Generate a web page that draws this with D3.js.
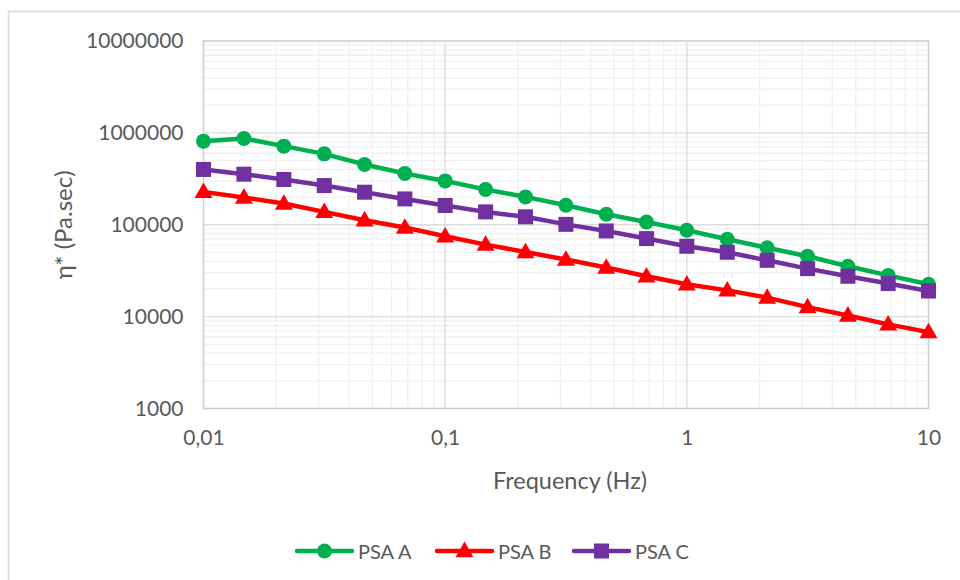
<!DOCTYPE html>
<html>
<head>
<meta charset="utf-8">
<script src="https://cdn.jsdelivr.net/npm/d3@7"></script>
<style>
  html, body { margin: 0; padding: 0; background: #fff; }
  svg { display: block; font-family: Lato, "Open Sans", sans-serif; }
</style>
</head>
<body>
<svg id="chart" width="960" height="580"></svg>
<script>
// ---- data ----
const frequencies = [0.01, 0.0147, 0.0215, 0.0316, 0.0464, 0.0681, 0.1, 0.147, 0.215, 0.316, 0.464, 0.681, 1, 1.47, 2.15, 3.16, 4.64, 6.81, 10];
const psaA = [813000, 870000, 717000, 591000, 453000, 361000, 300000, 242000, 201000, 163000, 130000, 107000, 87100, 69500, 56100, 45400, 35300, 28100, 22500];
const psaB = [228000, 198000, 170000, 138000, 112000, 93200, 74900, 60800, 50500, 41800, 34200, 27500, 22500, 19300, 16100, 12700, 10300, 8230, 6780];
const psaC = [400000, 355000, 311000, 267000, 226000, 191000, 162000, 138000, 122000, 101000, 85600, 70700, 58300, 50200, 41000, 33300, 27500, 22900, 19000];
const seriesNames = ["PSA A", "PSA B", "PSA C"];
const seriesColors = ["#00B050", "#FF0000", "#7030A0"];
const seriesMarkers = ["circle", "triangle", "square"];
const xTicks = [0.01, 0.1, 1, 10];
const xTickLabels = ["0,01", "0,1", "1", "10"];
const yTicks = [1000, 10000, 100000, 1000000, 10000000];
const yTickLabels = ["1000", "10000", "100000", "1000000", "10000000"];
const xTitle = "Frequency (Hz)";
const yTitle = "η* (Pa.sec)";

// ---- layout ----
const svg = d3.select("#chart");
const plot = { left: 203.5, right: 928.5, top: 41, bottom: 408.5 };

const x = d3.scaleLog().domain([0.01, 10]).range([plot.left, plot.right]);
const y = d3.scaleLog().domain([1000, 10000000]).range([plot.bottom, plot.top]);

// outer chart border
svg.append("rect")
  .attr("x", 8.5).attr("y", 11.5)
  .attr("width", 1000).attr("height", 1000)
  .attr("fill", "none").attr("stroke", "#d9d9d9").attr("stroke-width", 1.5);

// minor gridlines
const minorX = [];
for (let d = 0.01; d < 10; d *= 10) for (let k = 2; k <= 9; k++) minorX.push(d * k);
const minorY = [];
for (let d = 1000; d < 10000000; d *= 10) for (let k = 2; k <= 9; k++) minorY.push(d * k);

const grid = svg.append("g");
grid.selectAll(".mx").data(minorX).enter().append("line")
  .attr("x1", d => x(d)).attr("x2", d => x(d))
  .attr("y1", plot.top).attr("y2", plot.bottom)
  .attr("stroke", "#f0f0f0").attr("stroke-width", 1.3);
grid.selectAll(".my").data(minorY).enter().append("line")
  .attr("y1", d => y(d)).attr("y2", d => y(d))
  .attr("x1", plot.left).attr("x2", plot.right)
  .attr("stroke", "#f0f0f0").attr("stroke-width", 1.3);

// major gridlines
grid.selectAll(".Mx").data(xTicks).enter().append("line")
  .attr("x1", d => x(d)).attr("x2", d => x(d))
  .attr("y1", plot.top).attr("y2", plot.bottom)
  .attr("stroke", "#dcdcdc").attr("stroke-width", 1.3);
grid.selectAll(".My").data(yTicks).enter().append("line")
  .attr("y1", d => y(d)).attr("y2", d => y(d))
  .attr("x1", plot.left).attr("x2", plot.right)
  .attr("stroke", "#dcdcdc").attr("stroke-width", 1.3);

// plot border
svg.append("rect")
  .attr("x", plot.left).attr("y", plot.top)
  .attr("width", plot.right - plot.left).attr("height", plot.bottom - plot.top)
  .attr("fill", "none").attr("stroke", "#cfcfcf").attr("stroke-width", 1.3);

// axes (labels only, via d3 axis)
const yAxis = d3.axisLeft(y).tickValues(yTicks)
  .tickFormat((d, i) => yTickLabels[i]).tickSize(0).tickPadding(20);
svg.append("g").attr("transform", `translate(${plot.left},0)`).call(yAxis)
  .call(g => g.select(".domain").remove())
  .call(g => g.selectAll("text").attr("fill", "#595959").attr("font-size", 21)
    .attr("font-family", "Lato, sans-serif"));

const xAxis = d3.axisBottom(x).tickValues(xTicks)
  .tickFormat((d, i) => xTickLabels[i]).tickSize(0).tickPadding(22);
svg.append("g").attr("transform", `translate(0,${plot.bottom})`).call(xAxis)
  .call(g => g.select(".domain").remove())
  .call(g => g.selectAll("text").attr("fill", "#595959").attr("font-size", 21)
    .attr("font-family", "Lato, sans-serif"));

// axis titles
svg.append("text")
  .attr("x", (plot.left + plot.right) / 2 + 4).attr("y", 480)
  .attr("text-anchor", "middle").attr("dominant-baseline", "central")
  .attr("fill", "#595959").attr("font-size", 23.5)
  .text(xTitle);
svg.append("text")
  .attr("transform", `translate(62,${(plot.top + plot.bottom) / 2}) rotate(-90)`)
  .attr("text-anchor", "middle").attr("dominant-baseline", "central")
  .attr("fill", "#595959").attr("font-size", 24)
  .text(yTitle);

// markers
function drawMarker(g, type, color, cx, cy) {
  if (type === "circle") {
    g.append("circle").attr("cx", cx).attr("cy", cy).attr("r", 7.5).attr("fill", color);
  } else if (type === "square") {
    g.append("rect").attr("x", cx - 7.5).attr("y", cy - 7.5).attr("width", 15).attr("height", 15).attr("fill", color);
  } else {
    const s = d3.symbol().type(d3.symbolTriangle).size(140);
    g.append("path").attr("d", s()).attr("transform", `translate(${cx},${cy + 1})`).attr("fill", color);
  }
}

const allSeries = [psaA, psaB, psaC];
const line = d3.line().x(d => x(d[0])).y(d => y(d[1]));

allSeries.forEach((vals, si) => {
  const pts = frequencies.map((f, i) => [f, vals[i]]);
  const g = svg.append("g");
  g.append("path").datum(pts).attr("d", line)
    .attr("fill", "none").attr("stroke", seriesColors[si])
    .attr("stroke-width", 4.5).attr("stroke-linejoin", "round").attr("stroke-linecap", "round");
  pts.forEach(p => drawMarker(g, seriesMarkers[si], seriesColors[si], x(p[0]), y(p[1])));
});

// legend
const legendX = [297, 437, 574];
const legendY = 551;
seriesNames.forEach((name, i) => {
  const g = svg.append("g");
  g.append("line").attr("x1", legendX[i]).attr("x2", legendX[i] + 55)
    .attr("y1", legendY).attr("y2", legendY)
    .attr("stroke", seriesColors[i]).attr("stroke-width", 4.5).attr("stroke-linecap", "round");
  drawMarker(g, seriesMarkers[i], seriesColors[i], legendX[i] + 27.5, legendY);
  g.append("text").attr("x", legendX[i] + 61).attr("y", legendY)
    .attr("dominant-baseline", "central").attr("fill", "#595959").attr("font-size", 20)
    .text(name);
});
</script>
</body>
</html>
